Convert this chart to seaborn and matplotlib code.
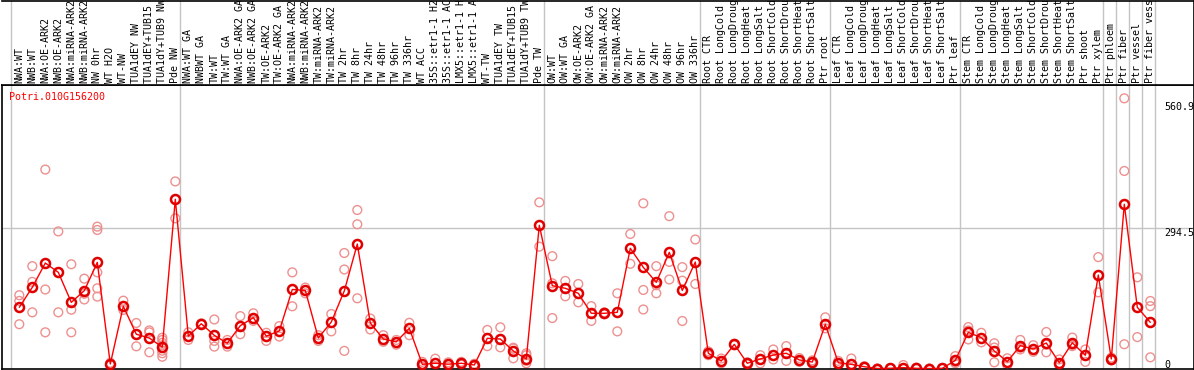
import numpy as np
import pandas as pd
import matplotlib
matplotlib.use("Agg")
import matplotlib.pyplot as plt
import seaborn as sns

# ---------------- data ----------------
gene_id = "Potri.010G156200"

labels = [
    "NWA:WT", "NWB:WT", "NWA:OE-ARK2", "NWB:OE-ARK2", "NWA:miRNA-ARK2", "NWB:miRNA-ARK2",
    "NW 0hr", "WT H2O", "WT-NW", "TUA1dEY NW", "TUA1dEY+TUB15 NW", "TUA1dY+TUB9 NW", "Pde NW",
    "NWA:WT GA", "NWBWT GA", "TW:WT", "TW:WT GA", "NWA:OE-ARK2 GA", "NWB:OE-ARK2 GA",
    "TW:OE-ARK2", "TW:OE-ARK2 GA", "NWA:miRNA-ARK2", "NWB:miRNA-ARK2", "TW:miRNA-ARK2",
    "TW:miRNA-ARK2", "TW 2hr", "TW 8hr", "TW 24hr", "TW 48hr", "TW 96hr", "TW 336hr",
    "WT ACC", "35S::etr1-1 H2O", "35S::etr1-1 ACC", "LMX5::etr1-1 H2O", "LMX5::etr1-1 ACC",
    "WT-TW", "TUA1dEY TW", "TUA1dEY+TUB15 TW", "TUA1dY+TUB9 TW", "Pde TW",
    "OW:WT", "OW:WT GA", "OW:OE-ARK2", "OW:OE-ARK2 GA", "OW:miRNA-ARK2", "OW:miRNA-ARK2",
    "OW 2hr", "OW 8hr", "OW 24hr", "OW 48hr", "OW 96hr", "OW 336hr",
    "Root CTR", "Root LongCold", "Root LongDrought", "Root LongHeat", "Root LongSalt",
    "Root ShortCold", "Root ShortDrought", "Root ShortHeat", "Root ShortSalt", "Ptr root",
    "Leaf CTR", "Leaf LongCold", "Leaf LongDrought", "Leaf LongHeat", "Leaf LongSalt",
    "Leaf ShortCold", "Leaf ShortDrought", "Leaf ShortHeat", "Leaf ShortSalt", "Ptr leaf",
    "Stem CTR", "Stem LongCold", "Stem LongDrought", "Stem LongHeat", "Stem LongSalt",
    "Stem ShortCold", "Stem ShortDrought", "Stem ShortHeat", "Stem ShortSalt", "Ptr shoot",
    "Ptr xylem", "Ptr phloem", "Ptr fiber", "Ptr vessel", "Ptr fiber vessel",
]

means = [
    128.5, 170.5, 221.6, 202, 139, 163.5, 223, 9.5, 130.7, 72, 64, 45, 355.5,
    68, 94, 69.7, 53, 90, 106.7, 68, 79, 166, 164, 64, 97.7, 163, 261.5, 95.6, 62, 56, 84.5,
    8.8, 11, 9, 11, 7.4, 63.4, 62, 36.8, 20, 300.8,
    174, 168.5, 158, 116, 116, 118, 252.5, 212.6, 181, 244, 164, 223.7,
    32, 15.7, 50.8, 11, 20, 28.4, 32, 18, 13.6, 92.8,
    12, 8.8, 3.8, 0, 0.5, 1.8, 0.4, 0, 0.4, 17,
    76, 64.8, 36.8, 14.3, 48, 41, 53.6, 12, 54, 27.7,
    196.4, 20, 345, 128.6, 97,
]

replicates = [
    [154, 142, 93], [215, 182, 118], [418, 166, 76], [288, 118], [219, 123.5, 76],
    [188.7, 145, 157], [298, 291, 202, 168.5, 151], [12, 8], [142.5, 123], [95.6, 46.6],
    [80, 76, 34], [64.7, 60, 54, 48.7, 43.7, 37.4, 32, 24.8], [393, 315.5],
    [76, 60], [95, 93], [103, 58, 46], [60, 46], [110, 72, 88], [116, 100, 104],
    [75, 58], [89, 67], [202, 130.7], [170, 158], [70, 58], [114.5, 78],
    [242.6, 208, 37], [333, 303, 147.5], [105, 82], [70, 56], [60, 50], [96, 70],
    [14, 4], [20.6, 5], [13, 4], [14, 8], [10, 4], [81, 47], [86.5, 44.5],
    [43.7, 21.4, 42], [32, 28, 16.4, 11], [349, 256],
    [236, 179, 106], [184, 151.7], [177.5, 139], [131, 100], [118, 114], [158, 78],
    [282.6, 220], [347, 165, 124], [215, 175, 158], [320, 224, 187], [213, 184.5, 99.8],
    [271, 177.5],
    [36, 28], [21, 11], [52, 49], [13, 9], [28, 11], [40, 19], [47, 16], [22, 14],
    [17, 10], [107.5, 84.4],
    [16, 6], [21, 0], [5, 2], [0, 0], [1, 0], [7.3, 0], [2, 0], [0, 0], [1, 0], [26, 14, 11],
    [87, 61, 80], [75, 55], [53, 13, 44], [21.4, 7], [60, 40, 44], [49, 35], [76.7, 34, 50],
    [19, 7], [65, 47, 50], [40, 14],
    [234, 160], [23, 17], [567.6, 415, 51], [191.6, 66], [141.8, 131, 23.5],
]

# index (0-based) of last column of each group (-1 = left edge)
group_ends = [-1, 12, 40, 52, 62, 72, 83, 84, 85, 86, 87]
axis_values = [560.9, 294.5, 0]
grid_values = [294.5]

# ---------------- frame ----------------
W, H = 1194, 370
sns.set_theme(style="white")
plt.rcParams["font.family"] = ["DejaVu Sans Mono", "DejaVu Sans"]

fig = plt.figure(figsize=(W / 100, H / 100), dpi=100)


def px_rect(x0, y0, x1, y1):
    return [x0 / W, 1 - y1 / H, (x1 - x0) / W, (y1 - y0) / H]


ax = fig.add_axes(px_rect(1.7, 85, 1193.5, 369))
axl = fig.add_axes(px_rect(1.7, 0.5, 1193.5, 85))

x0pix, step = 19.3, 13.0
xlim = ((1.7 - x0pix) / step, (1193.5 - x0pix) / step)
y0pix, scale = 368.5, 0.476
ax.set_xlim(*xlim)
axl.set_xlim(*xlim)
ax.set_ylim(-(369 - y0pix) / scale, (y0pix - 85) / scale)
axl.set_ylim(0, 1)

grid_c = "#C4C4C4"
for g in group_ends:
    ax.axvline(g + 5 / 13, color=grid_c, lw=1, zorder=0)
    axl.axvline(g + 5 / 13, color=grid_c, lw=1, zorder=0)
for gv in grid_values:
    ax.axhline(gv, color=grid_c, lw=1, zorder=0)

# replicates
rep_rows = [(i, v) for i, reps in enumerate(replicates) for v in reps]
rep_df = pd.DataFrame(rep_rows, columns=["x", "value"])
sns.scatterplot(data=rep_df, x="x", y="value", ax=ax, marker="o", s=40,
                color="#EE9090", linewidth=1.0, zorder=2, legend=False)
coll = ax.collections[-1]
coll.set_facecolor("none")
coll.set_edgecolor("#EE9090")

# means
mean_df = pd.DataFrame({"x": np.arange(len(means)), "value": means})
sns.lineplot(data=mean_df, x="x", y="value", ax=ax, color="#FF0000", lw=1.0,
             marker="o", markersize=6.5, markerfacecolor="none",
             markeredgecolor="#E00000", markeredgewidth=1.8, zorder=3)

# column labels
tr = axl.get_xaxis_transform()
for i, lab in enumerate(labels):
    t = axl.text(i, 2 / 85, lab, rotation=90, ha="center", va="bottom",
                 transform=tr, fontsize=7.2, color="black")
    t.set_clip_on(True)

# value labels on the right
ytr = ax.get_yaxis_transform()
for v in axis_values:
    ax.text((1164 - 1.7) / (1193.5 - 1.7), max(v, 17), f"{v:g}", ha="left", va="top",
            transform=ytr, fontsize=7.2, color="black", clip_on=False)

fig.text(9.3 / W, 1 - 97 / H, gene_id, color="#FF0000", fontsize=7.2,
         ha="left", va="center")

for a in (ax, axl):
    a.set_xticks([])
    a.set_yticks([])
    a.set_xlabel("")
    a.set_ylabel("")
for s in ["left", "right", "top", "bottom"]:
    ax.spines[s].set_color("black")
    ax.spines[s].set_linewidth(1.2)
axl.spines["left"].set_visible(False)
for s in ["right", "top", "bottom"]:
    axl.spines[s].set_color("black")
    axl.spines[s].set_linewidth(1.2)

fig.savefig("out.png", dpi=100)
